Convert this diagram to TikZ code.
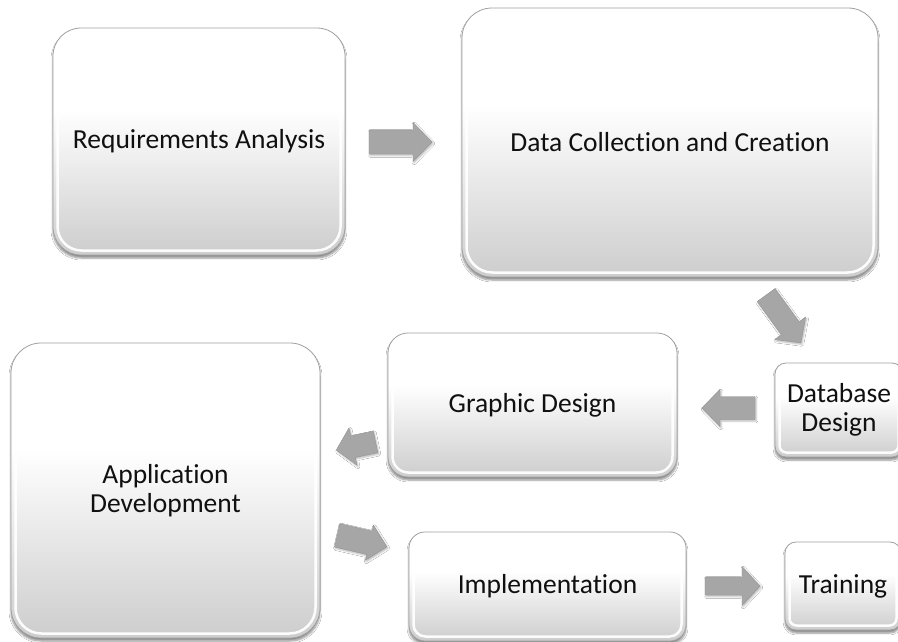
\documentclass[tikz,border=0pt]{standalone}
\usepackage{fontspec}
\setmainfont{Carlito}[Ligatures=NoCommon]
\usetikzlibrary{shadows.blur}

\definecolor{boxbottom}{HTML}{CDCDCD}
\definecolor{boxedge}{HTML}{A0A0A0}
\definecolor{arrowgray}{HTML}{A6A6A6}
\definecolor{labelink}{HTML}{101010}

% white upper part fading to light grey at the bottom
\pgfdeclareverticalshading{glossbox}{100bp}{color(0bp)=(boxbottom); color(25bp)=(boxbottom); color(57bp)=(white); color(100bp)=(white)}

\tikzset{
  procbox/.style={rectangle, rounded corners=#1, shading=glossbox, draw=boxedge,
    line width=0.8pt, align=center, inner sep=0pt,
    font=\fontsize{27.5}{29}\selectfont, text=labelink,
    blur shadow={shadow xshift=0pt, shadow yshift=-3pt, shadow blur steps=6, shadow opacity=45},
    path picture={
      \draw[white, line width=2.5pt, opacity=0.95, rounded corners=#1-4pt]
        ([xshift=4.5pt,yshift=4.5pt]path picture bounding box.south west) rectangle
        ([xshift=-4.5pt,yshift=-4.5pt]path picture bounding box.north east);
    }},
  arrowbody/.style={fill=arrowgray, draw=arrowgray!90!black, line width=0.4pt,
    blur shadow={shadow xshift=1pt, shadow yshift=-1.5pt, shadow blur steps=4, shadow opacity=30}}
}

% block arrow: name, x, y, angle, length, shaft width, head width, head length
\newcommand\blkarrow[8]{%
  \coordinate (#1) at (#2,#3);
  \path[arrowbody, shift={(#1)}, rotate=#4]
    (-#5/2,-#6/2) -- (#5/2-#8,-#6/2) -- (#5/2-#8,-#7/2) -- (#5/2,0)
    -- (#5/2-#8,#7/2) -- (#5/2-#8,#6/2) -- (-#5/2,#6/2) -- cycle;}

\begin{document}
\begin{tikzpicture}[x=1pt, y=-1pt]
  \useasboundingbox (0,0) rectangle (898,642);
  \fill[white] (0,0) rectangle (898,642);
  \clip (0,0) rectangle (898,642);

  % process steps
  \node[procbox=28pt, minimum width=292pt, minimum height=227pt] (ra) at (199,141.5) {Requirements Analysis};
  \node[procbox=30pt, minimum width=416pt, minimum height=269pt] (dc) at (670,142.5) {Data Collection and Creation};
  \node[procbox=11pt, minimum width=128pt, minimum height=94pt] (db) at (839,410) {Database\\Design};
  \node[procbox=20pt, minimum width=289pt, minimum height=144pt] (gd) at (532.5,405) {Graphic Design};
  \node[procbox=30pt, minimum width=309pt, minimum height=295pt] (ad) at (165.5,490.5) {Application\\Development};
  \node[procbox=16pt, minimum width=277pt, minimum height=109pt] (im) at (547.5,586.5) {Implementation};
  \node[procbox=11pt, minimum width=116pt, minimum height=88pt] (tr) at (843,586) {Training};

  % flow arrows between the steps
  \blkarrow{raTOdc}{400.5}{142}{0}{63}{24}{39}{19}
  \blkarrow{dcTOdb}{783.5}{319}{-54}{59}{22}{38}{18}
  \blkarrow{dbTOgd}{728.5}{408}{180}{53}{23}{37}{18}
  \blkarrow{gdTOad}{356}{446}{192}{40}{22}{38}{17}
  \blkarrow{adTOim}{362}{541}{-13}{51}{24}{36}{18}
  \blkarrow{imTOtr}{732.5}{586}{0}{55}{18}{39}{18}
\end{tikzpicture}
\end{document}
